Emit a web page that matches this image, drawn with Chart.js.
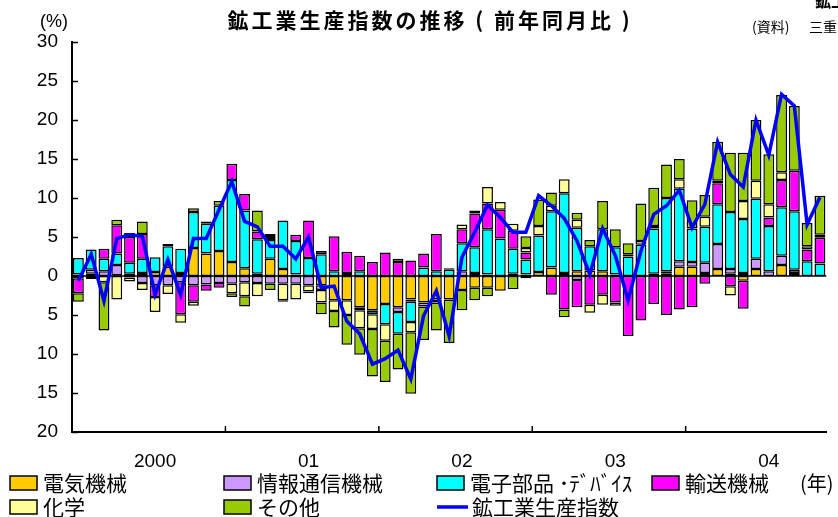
<!doctype html>
<html lang="ja">
<head>
<meta charset="UTF-8" />
<title>鉱工業生産指数の推移</title>
<script src="https://cdn.jsdelivr.net/npm/chart.js"></script>
<style>
  body { margin: 0; background: #fff; }
</style>
</head>
<body>
<canvas id="chart" width="838" height="517"></canvas>
<script>
// 年ラベル (2000年1月〜2004年11月)
const yearLabels = ["2000", "01", "02", "03", "04"];
const months = [];
for (let y = 0; y < yearLabels.length; y++) {
  for (let m = 1; m <= 12; m++) {
    if (y === 4 && m > 11) break;
    months.push(yearLabels[y] + "/" + m);
  }
}

// 寄与度 (%)
const denki = [0.2, 0.3, 0, 0.1, 0.3, 0.4, 0.5, 1.2, 0.4, 3.6, 2.9, 3.2,
  1.8, 1.0, 0.3, 2.2, 0.9, 0.2, 0, -1.2, -3.1, -3.1, -4.0, -4.4,
  -3.6, -4.0, -3.0, -3.4, -3.0, -3.0, -1.8, -1.5, -1.5, -1.9, 0, 0.2,
  0.5, 1.1, 0.4, 0.6, 0.7, 0.6, 0.2, 0, 0, 0.3, 0.3, 1.2,
  1.2, 0.4, 0.9, 0.3, -0.6, 0.9, 0, 1.4, 0.4, 0, 0];
const joho = [-0.3, 0.5, 0.6, 1.3, -0.2, -0.9, -1.2, -1.2, -0.8, -1.2, -1.1, -0.9,
  -1.0, -0.8, -0.9, -1.0, -1.0, -1.0, -1.2, -0.6, 0, 0, -0.4, -0.1,
  0, -0.6, -0.3, -0.5, -0.4, 0, 0.6, 0.4, 0.2, 0, 0.3, -0.3,
  0, 0, 0, -0.5, 0, 0, 0, 0, 0, 0, 0.3, 0.7,
  0.6, 1.3, 3.2, 0.6, 0.4, 1.3, 0.6, 1.2, 0.4, 0, 0];
const denshi = [2.1, 2.6, 1.6, 1.5, 1.4, 1.8, 1.9, 2.6, 3.1, 4.6, 3.8, 5.8,
  10.5, 7.4, 4.4, 2.4, 6.2, 4.3, 2.3, 2.8, 0.6, 0.4, 0.6, -0.4,
  -2.6, -2.8, -2.6, 1.1, 0.6, 0.8, 3.6, 3.3, 5.8, 4.8, 3.2, 1.9,
  4.7, 7.2, 10.2, 5.6, 3.1, 5.4, 3.5, 2.5, 4.0, 5.8, 9.4, 9.3,
  4.3, 4.6, 5.1, 7.3, 6.9, 7.7, 5.8, 6.2, 7.5, 1.9, 1.6];
const yuso = [-1.9, -0.4, 1.3, 3.6, 3.3, 3.2, -1.5, 0.3, -4.1, -2.1, -0.8, -0.6,
  2.1, 2.1, 1.0, 0.4, 0, 0.8, 4.8, 0.4, 4.5, 2.7, 2.0, 1.8,
  3.0, 1.8, 2.0, 1.8, 4.8, 0.2, 1.8, 4.3, 3.3, 3.7, 2.3, 0.9,
  0, -2.4, -4.3, -3.5, -3.7, -2.4, -3.4, -7.7, -5.7, -3.6, -5.0, -4.3,
  -4.0, -1.0, 2.7, -1.3, -3.6, 0, 1.1, 3.5, 5.2, 1.5, 3.3];
const kagaku = [0, 0, -0.8, -3.0, -0.5, -0.9, -1.9, -1.1, -1.1, -0.5, 0, 0,
  -1.2, -1.8, -1.7, 0.4, -2.1, -2.0, -0.8, -1.6, -1.4, -1.9, -2.3, -1.9,
  -2.1, 0.4, -1.3, 0, 0, 0, 0.6, 0.4, 2.1, 1.0, 0.9, 0.6,
  1.2, 0.7, 1.8, 1.0, -1.0, -1.3, -0.4, 0.3, 0.5, 0.3, 0, 1.2,
  0, 1.3, 0.3, -1.2, 2.3, 2.3, 1.7, 1.0, 0, 0.4, 0.4];
const sonota = [-1.1, 0, -6.2, 0.7, 0.5, 1.6, 0, 0, 0, 0.5, 0.3, 0.6,
  -0.5, -1.3, 2.7, -0.8, -0.2, 0, -0.2, -1.5, -2.1, -3.8, -3.4, -6.1,
  -5.3, -4.6, -7.9, -4.3, -3.6, -5.6, -2.6, -1.6, -1.1, 0, -1.7, 1.5,
  3.4, 1.7, -1.0, 0.9, 0.8, 3.6, 2.3, 1.4, 4.8, 4.9, 4.3, 2.6,
  3.6, 2.8, 5.0, 7.6, 6.2, 7.8, 6.4, 9.9, 8.3, 3.0, 5.0];
// 鉱工業生産指数 前年同月比 (%)
const shisu = [-0.6, 2.8, -3.2, 4.8, 5.3, 5.1, -2.4, 2.1, -2.4, 4.8, 4.8, 8.5,
  12.1, 7.0, 6.3, 3.8, 3.8, 2.2, 5.0, -1.5, -1.3, -5.8, -7.4, -11.3,
  -10.6, -9.5, -13.2, -5.1, -1.9, -7.7, 2.4, 5.6, 9.1, 7.5, 5.6, 5.6,
  10.3, 9.0, 7.4, 4.5, 0.2, 6.1, 2.6, -3.1, 3.2, 7.9, 9.0, 11.0,
  6.2, 9.2, 17.2, 13.0, 11.4, 20.0, 15.5, 23.3, 21.8, 6.6, 10.1];

const yTicks = [-20, -15, -10, -5, 0, 5, 10, 15, 20, 25, 30];

const numFont = '"Liberation Sans Narrow", "Liberation Sans", Arial, sans-serif';
const jpFont = '"Noto Sans CJK JP", sans-serif';

function bar(label, data, color) {
  return {
    type: "bar", label: label, data: data, backgroundColor: color,
    borderColor: "#000", borderWidth: 1.5, borderSkipped: false,
    stack: "kiyo", order: 1
  };
}

const extras = {
  id: "extras",
  beforeDatasetsDraw(chart) {
    const ctx = chart.ctx, a = chart.chartArea, y = chart.scales.y;
    ctx.save();
    ctx.strokeStyle = "#000";
    ctx.lineWidth = 1.5;
    ctx.beginPath();
    ctx.moveTo(a.left, y.getPixelForValue(0));
    ctx.lineTo(a.right, y.getPixelForValue(0));
    ctx.stroke();
    ctx.restore();
  },
  afterDraw(chart) {
    const ctx = chart.ctx, a = chart.chartArea, x = chart.scales.x, y = chart.scales.y;
    ctx.save();
    ctx.strokeStyle = "#000";
    ctx.lineWidth = 1.5;
    // 目盛り (内向き)
    yTicks.forEach(v => {
      const py = Math.round(y.getPixelForValue(v)) + 0.5;
      ctx.beginPath(); ctx.moveTo(a.left, py); ctx.lineTo(a.left + 6, py); ctx.stroke();
    });
    for (let i = 12; i < months.length; i += 12) {
      const px = (x.getPixelForValue(i - 1) + x.getPixelForValue(i)) / 2;
      ctx.beginPath(); ctx.moveTo(px, a.bottom); ctx.lineTo(px, a.bottom - 6); ctx.stroke();
    }

    ctx.fillStyle = "#000";
    ctx.textBaseline = "middle";
    // タイトル
    ctx.font = "bold 21px " + jpFont;
    ctx.textAlign = "center";
    ctx.letterSpacing = "3px";
    ctx.fillText("鉱工業生産指数の推移 ( 前年同月比 )", 430, 20);
    ctx.letterSpacing = "0px";
    ctx.textAlign = "left";
    ctx.font = "18px " + numFont;
    ctx.fillText("(%)", 40, 22);
    ctx.font = "14px " + jpFont;
    ctx.fillText("(資料)", 752, 27);
    ctx.fillText("三重県", 809, 27);
    ctx.font = "bold 16px " + jpFont;
    ctx.fillText("鉱工業", 815, 1);

    // 凡例
    const items = [
      ["電気機械", "#FFCC00", 10, 483],
      ["情報通信機械", "#CC99FF", 224, 483],
      ["電子部品 ･ﾃﾞﾊﾞｲｽ", "#00FFFF", 437, 483],
      ["輸送機械", "#FF00FF", 652, 483],
      ["化学", "#FFFF99", 10, 507],
      ["その他", "#99CC00", 224, 507]
    ];
    ctx.font = "21px " + jpFont;
    items.forEach(([t, c, lx, ly]) => {
      ctx.fillStyle = c;
      ctx.fillRect(lx, ly - 7, 27, 14);
      ctx.strokeRect(lx, ly - 7, 27, 14);
      ctx.fillStyle = "#000";
      ctx.fillText(t, lx + 33, ly);
    });
    ctx.strokeStyle = "#0000FF";
    ctx.lineWidth = 3.5;
    ctx.beginPath(); ctx.moveTo(437, 507); ctx.lineTo(468, 507); ctx.stroke();
    ctx.fillText("鉱工業生産指数", 472, 507);
    ctx.font = "20px " + jpFont;
    ctx.fillText("(年)", 800, 483);
    ctx.restore();
  }
};

new Chart(document.getElementById("chart"), {
  data: {
    labels: months,
    datasets: [
      bar("電気機械", denki, "#FFCC00"),
      bar("情報通信機械", joho, "#CC99FF"),
      bar("電子部品・デバイス", denshi, "#00FFFF"),
      bar("輸送機械", yuso, "#FF00FF"),
      bar("化学", kagaku, "#FFFF99"),
      bar("その他", sonota, "#99CC00"),
      {
        type: "line", label: "鉱工業生産指数", data: shisu,
        borderColor: "#0000FF", borderWidth: 3.5, pointRadius: 0,
        tension: 0, fill: false, stack: "shisu", order: 0
      }
    ]
  },
  options: {
    responsive: false,
    animation: false,
    layout: { padding: { left: 0, right: 10, top: 42, bottom: 0 } },
    datasets: { bar: { categoryPercentage: 1, barPercentage: 0.85 } },
    plugins: { legend: { display: false }, tooltip: { enabled: false } },
    scales: {
      x: {
        stacked: true,
        grid: { display: false, drawTicks: false },
        border: { color: "#000", width: 2 },
        ticks: {
          autoSkip: false, maxRotation: 0, padding: 18, color: "#000",
          font: { family: numFont, size: 19 },
          callback: (v, i) => (i % 12 === 6 ? yearLabels[Math.floor(i / 12)] : "")
        },
        afterFit: s => { s.height = 85; }
      },
      y: {
        stacked: true, min: -20, max: 30,
        grid: { display: false, drawTicks: false },
        border: { color: "#000", width: 2 },
        ticks: {
          stepSize: 5, padding: 14, color: "#000",
          font: { family: numFont, size: 19 },
          callback: v => Math.abs(v)
        },
        afterFit: s => { s.width = 72; }
      }
    }
  },
  plugins: [extras]
});
</script>
</body>
</html>
